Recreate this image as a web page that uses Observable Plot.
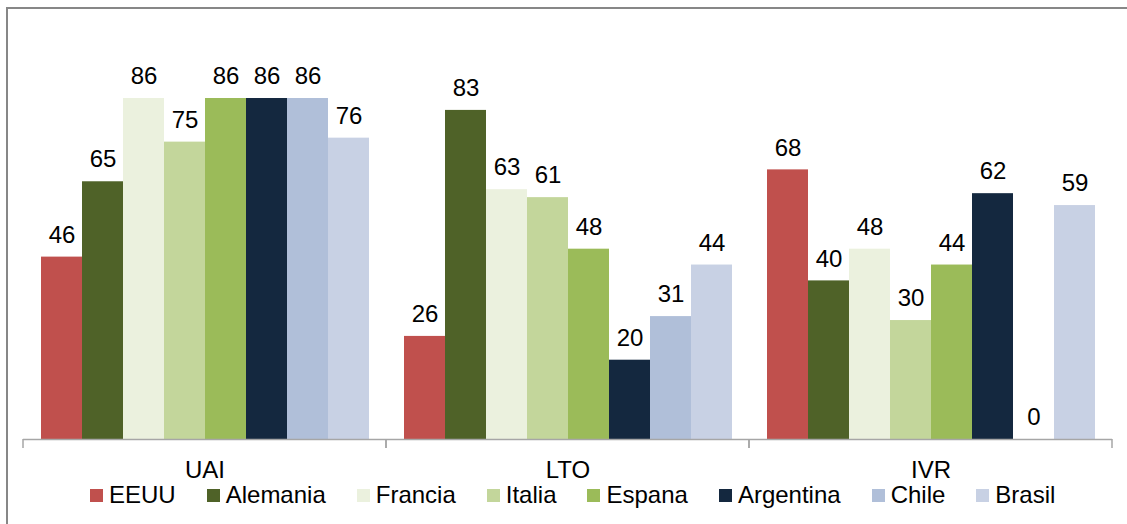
<!DOCTYPE html>
<html>
<head>
<meta charset="utf-8">
<script src="https://cdn.jsdelivr.net/npm/d3@7"></script>
<script src="https://cdn.jsdelivr.net/npm/@observablehq/plot@0.6"></script>
<style>
  html, body { margin: 0; padding: 0; background: #fff; }
  body { width: 1127px; height: 524px; position: relative; overflow: hidden; font-family: "Liberation Sans", Arial, sans-serif; }
  #chart { position: absolute; left: 0; top: 0; }
  #frame { position: absolute; left: 6px; top: 7px; right: -10px; bottom: -10px; border-left: 2px solid #878787; border-top: 2px solid #878787; pointer-events: none; }
  #legend { position: absolute; left: 90px; top: 483px; display: flex; align-items: center; gap: 31px; font-size: 24px; line-height: 24px; color: #000; white-space: nowrap; }
  #legend .item { display: flex; align-items: center; }
  #legend .sw { width: 13px; height: 13px; margin-right: 6px; }
</style>
</head>
<body>
<div id="chart"></div>
<div id="legend"></div>
<div id="frame"></div>
<script>
const categories = ["UAI", "LTO", "IVR"];
const countries = ["EEUU", "Alemania", "Francia", "Italia", "Espana", "Argentina", "Chile", "Brasil"];
const colors = ["#c0504d", "#4f6228", "#ebf1de", "#c3d69b", "#9bbb59", "#14283f", "#b0bfd9", "#c8d1e4"];
const uaiValues = [46, 65, 86, 75, 86, 86, 86, 76];
const ltoValues = [26, 83, 63, 61, 48, 20, 31, 44];
const ivrValues = [68, 40, 48, 30, 44, 62, 0, 59];

const seriesByCategory = [uaiValues, ltoValues, ivrValues];
const rows = categories.flatMap((cat, i) =>
  countries.map((country, j) => ({cat, country, value: seriesByCategory[i][j]}))
);

function facetTicks(index, scales, values, dimensions) {
  let a, b;
  if (scales.x && typeof scales.x.range === "function") {
    [a, b] = scales.x.range();
  } else {
    a = dimensions.marginLeft; b = dimensions.width - dimensions.marginRight;
  }
  const y0 = scales.y(0);
  const g = d3.create("svg:g").attr("stroke", "#a6a6a6").attr("stroke-width", 1.5);
  for (const x of [a, b]) {
    g.append("line").attr("x1", x).attr("x2", x).attr("y1", y0).attr("y2", y0 + 9);
  }
  return g.node();
}

const chart = Plot.plot({
  width: 1127,
  height: 480,
  marginLeft: 23,
  marginRight: 15,
  marginTop: 42.5,
  marginBottom: 41,
  facet: {data: rows, x: "cat", marginLeft: 0, marginRight: 0, marginTop: 0, marginBottom: 0},
  fx: {domain: categories, padding: 0, axis: null, label: null},
  x: {domain: countries, paddingInner: 0, paddingOuter: 0.38, axis: null},
  y: {domain: [0, 100], axis: null},
  color: {domain: countries, range: colors},
  style: {fontFamily: "'Liberation Sans', Arial, sans-serif", fontSize: "24px", color: "#000", background: "transparent", overflow: "visible"},
  marks: [
    Plot.barY(rows, {x: "country", y: "value", fill: "country"}),
    Plot.ruleY([0], {stroke: "#a6a6a6", strokeWidth: 1.5}),
    facetTicks,
    Plot.text(rows, {x: "country", y: "value", text: d => String(d.value), dy: -22, fontSize: 24, fill: "#000"}),
    Plot.text(rows, Plot.selectFirst({text: "cat", frameAnchor: "bottom", lineAnchor: "middle", dy: 31, fontSize: 24, fill: "#000"}))
  ]
});
document.getElementById("chart").appendChild(chart);

const legend = document.getElementById("legend");
countries.forEach((c, i) => {
  const item = document.createElement("div");
  item.className = "item";
  const sw = document.createElement("span");
  sw.className = "sw";
  sw.style.background = colors[i];
  const label = document.createElement("span");
  label.textContent = c;
  item.appendChild(sw);
  item.appendChild(label);
  legend.appendChild(item);
});
</script>
</body>
</html>
